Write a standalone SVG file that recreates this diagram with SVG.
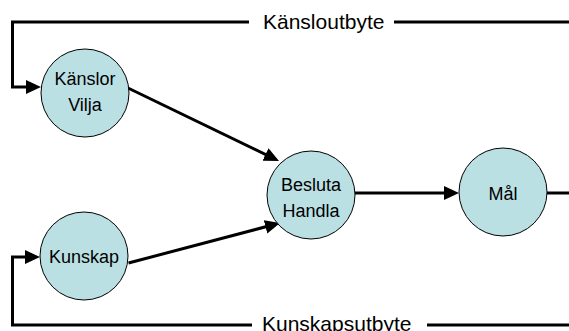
<svg xmlns="http://www.w3.org/2000/svg" width="569" height="331" viewBox="0 0 569 331">
  <style>
    .node circle { fill: #bbe0e3; stroke: #000; stroke-width: 1; }
    .node text { font-family: "Liberation Sans", Arial, sans-serif; font-size: 18px; fill: #000; text-anchor: middle; }
    .conn { fill: none; stroke: #000; stroke-width: 3; stroke-linejoin: miter; }
    .label { font-family: "Liberation Sans", Arial, sans-serif; font-size: 21px; fill: #000; }
  </style>
  <defs>
    <marker id="arrow" markerUnits="userSpaceOnUse" markerWidth="15" markerHeight="14" refX="10" refY="7" orient="auto">
      <path d="M0,0 L15,7 L0,14 z" fill="#000"/>
    </marker>
  </defs>
  <rect width="569" height="331" fill="#fff"/>
  <g id="connectors">
    <polyline class="conn" points="249,22 12.5,22 12.5,87 36,87" marker-end="url(#arrow)"/>
    <line class="conn" x1="394" y1="22" x2="569" y2="22"/>
    <polyline class="conn" points="252,325 12.5,325 12.5,257 35,257" marker-end="url(#arrow)"/>
    <line class="conn" x1="427" y1="325" x2="569" y2="325"/>
    <line class="conn" x1="128" y1="88" x2="274.5" y2="158.8" marker-end="url(#arrow)"/>
    <line class="conn" x1="128.5" y1="263" x2="275.2" y2="224.3" marker-end="url(#arrow)"/>
    <line class="conn" x1="355" y1="193" x2="454" y2="193" marker-end="url(#arrow)"/>
    <line class="conn" x1="547" y1="193" x2="569" y2="193"/>
    <text class="label" x="263" y="28.5">Känsloutbyte</text>
    <text class="label" x="262" y="331">Kunskapsutbyte</text>
  </g>
  <g id="node-kanslor" class="node">
    <circle cx="85" cy="93" r="44"/>
    <text x="85" y="85">Känslor</text>
    <text x="85" y="111">Vilja</text>
  </g>
  <g id="node-kunskap" class="node">
    <circle cx="84" cy="256" r="44"/>
    <text x="84" y="263">Kunskap</text>
  </g>
  <g id="node-besluta" class="node">
    <circle cx="311" cy="195" r="44"/>
    <text x="311" y="191">Besluta</text>
    <text x="311" y="217">Handla</text>
  </g>
  <g id="node-mal" class="node">
    <circle cx="503" cy="192" r="44"/>
    <text x="503" y="200">Mål</text>
  </g>
</svg>
